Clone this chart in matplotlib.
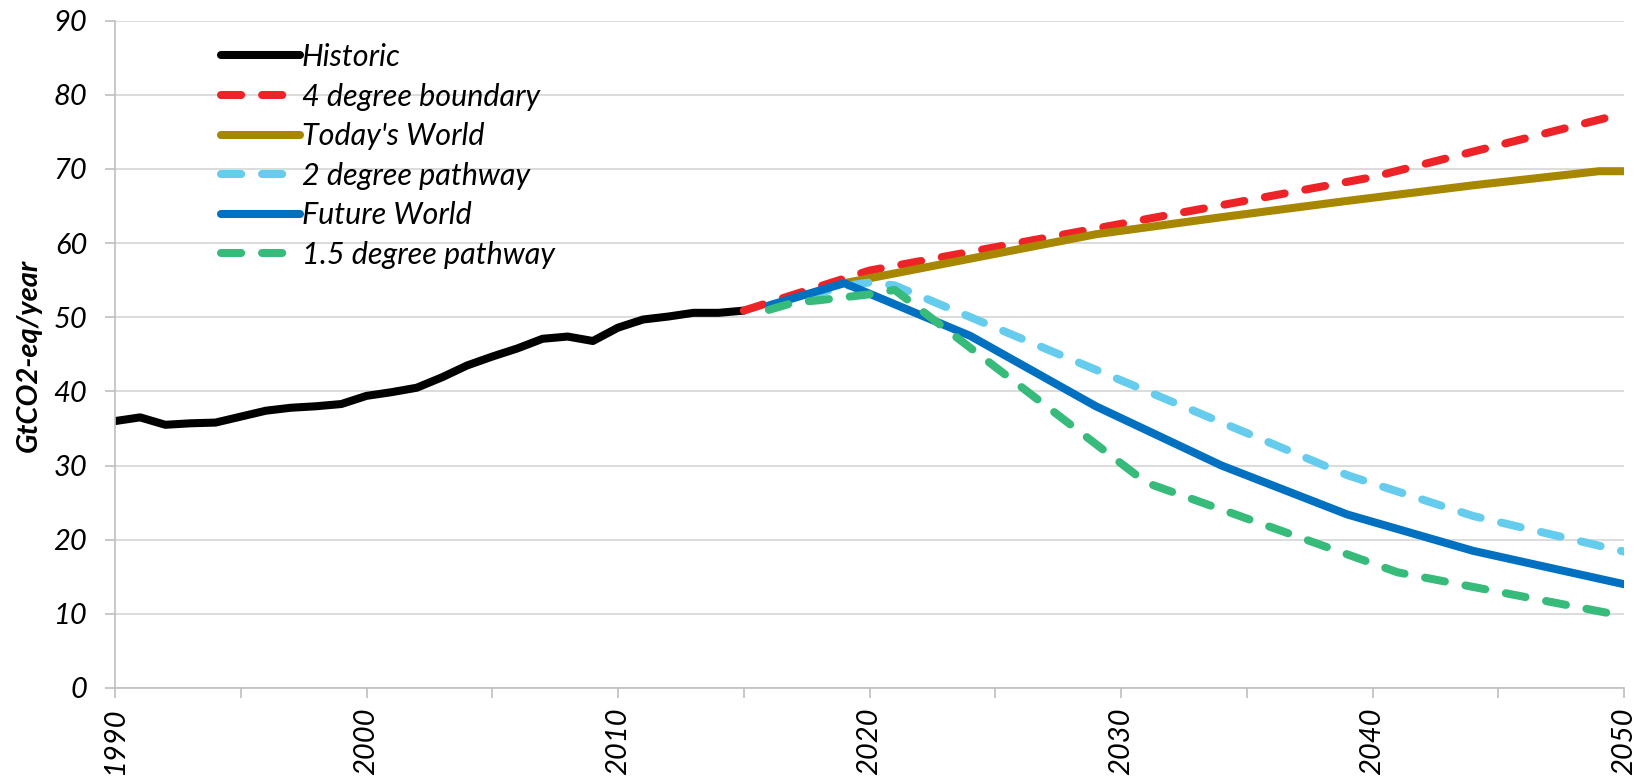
import matplotlib.pyplot as plt

plt.rcParams["font.family"] = ["Lato", "DejaVu Sans"]
plt.rcParams["font.style"] = "italic"

# ---- data ----
hist_years = list(range(1990, 2016))
historic = [36.0, 36.5, 35.5, 35.7, 35.8, 36.6, 37.4, 37.8, 38.0, 38.3,
            39.4, 39.9, 40.5, 41.9, 43.5, 44.7, 45.8, 47.1, 47.4, 46.8,
            48.6, 49.7, 50.1, 50.6, 50.6, 50.9]

red_years = [2015, 2020, 2030, 2040, 2050]
red_vals = [50.9, 56.3, 62.6, 68.9, 77.5]

gold_years = [2019, 2024, 2029, 2034, 2039, 2044, 2049, 2050]
gold_vals = [54.6, 57.9, 61.2, 63.5, 65.7, 67.8, 69.7, 69.7]

lblue_years = [2016, 2019, 2020, 2021, 2039, 2044, 2050]
lblue_vals = [51.5, 54.2, 54.7, 54.3, 28.7, 23.2, 18.4]

blue_years = [2016, 2019, 2024, 2029, 2034, 2039, 2044, 2050]
blue_vals = [51.6, 54.6, 47.5, 38.0, 30.0, 23.4, 18.5, 14.0]

green_years = [2016, 2017, 2018, 2019, 2020, 2021, 2031, 2041, 2050]
green_vals = [51.0, 52.0, 52.3, 52.7, 53.1, 53.7, 27.7, 15.6, 9.7]

labels = ["Historic", "4 degree boundary", "Today's World",
          "2 degree pathway", "Future World", "1.5 degree pathway"]

xticks = list(range(1990, 2051, 5))
xticklabels = [str(y) if y % 10 == 0 else "" for y in xticks]
yticks = list(range(0, 91, 10))

fig = plt.figure(figsize=(16.39, 7.76), dpi=100)
ax = fig.add_axes((115 / 1639, 88 / 776, 1509 / 1639, 667.3 / 776))

lw = 5.8
dash = (2.5, 2.6)
common = dict(lw=lw, solid_capstyle="round", dash_capstyle="round",
              solid_joinstyle="round", dash_joinstyle="round")

ax.plot(hist_years, historic, color="black", label=labels[0], **common)
ax.plot(red_years, red_vals, color="#EE2327", ls=(0, dash), label=labels[1], **common)
ax.plot(gold_years, gold_vals, color="#A88700", label=labels[2], **common)
ax.plot(lblue_years, lblue_vals, color="#66CCEE", ls=(0, dash), label=labels[3], **common)
ax.plot(blue_years, blue_vals, color="#0070C0", label=labels[4], **common)
ax.plot(green_years, green_vals, color="#36BB7A", ls=(0, dash), label=labels[5], **common)

ax.set_xlim(1990, 2050)
ax.set_ylim(0, 90)
ax.set_xticks(xticks)
ax.set_xticklabels(xticklabels, rotation=90)
ax.set_yticks(yticks)

for s in ["top", "right"]:
    ax.spines[s].set_visible(False)
for s in ["left", "bottom"]:
    ax.spines[s].set_color("#BFBFBF")
    ax.spines[s].set_linewidth(1.2)

ax.grid(axis="y", color="#D9D9D9", lw=1.3)
ax.set_axisbelow(True)
ax.tick_params(axis="both", color="#BFBFBF", length=7, width=1.2, labelsize=21)
ax.tick_params(axis="y", pad=13)
ax.tick_params(axis="x", pad=7)

fig.text(29 / 1639, 1 - 355 / 776, "GtCO2-eq/year", rotation=90, ha="center",
         va="center", fontsize=21, fontweight="bold", fontstyle="italic")

ax.legend(loc="upper left", bbox_to_anchor=(221 / 1639, 1 - 43 / 776),
          bbox_transform=fig.transFigure, frameon=False, fontsize=22,
          borderpad=0, borderaxespad=0, handlelength=2.6, handletextpad=0.05,
          labelspacing=0.38)

fig.savefig("out.png", dpi=100)
